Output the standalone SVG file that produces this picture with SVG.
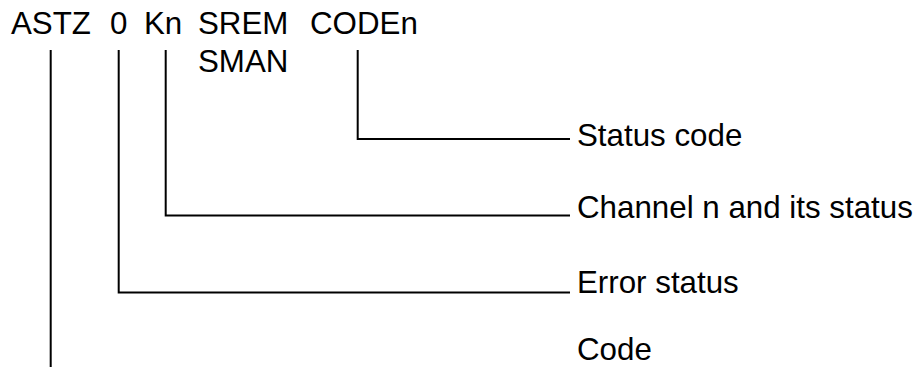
<svg xmlns="http://www.w3.org/2000/svg" width="922" height="367" viewBox="0 0 922 367">
<style>
text{font-family:"Liberation Sans",Arial,sans-serif;font-size:31.3px;fill:#000}
.c{stroke:#000;stroke-width:2;fill:none}
</style>
<rect width="922" height="367" fill="#fff"/>
<g id="header">
<text x="11" y="34">ASTZ</text>
<text x="110" y="34">0</text>
<text x="144" y="34">Kn</text>
<text x="198" y="34">SREM</text>
<text x="310" y="34">CODEn</text>
<text x="198" y="72">SMAN</text>
</g>
<g id="connectors">
<path class="c" d="M50.7 50V367"/>
<path class="c" d="M118.7 50V292.5H570"/>
<path class="c" d="M165.7 50V215.5H570"/>
<path class="c" d="M357.7 50V139H570"/>
</g>
<g id="label-status-code"><text x="577" y="146">Status code</text></g>
<g id="label-channel"><text x="577" y="218">Channel n and its status</text></g>
<g id="label-error"><text x="577" y="293">Error status</text></g>
<g id="label-code"><text x="577" y="360">Code</text></g>
</svg>
